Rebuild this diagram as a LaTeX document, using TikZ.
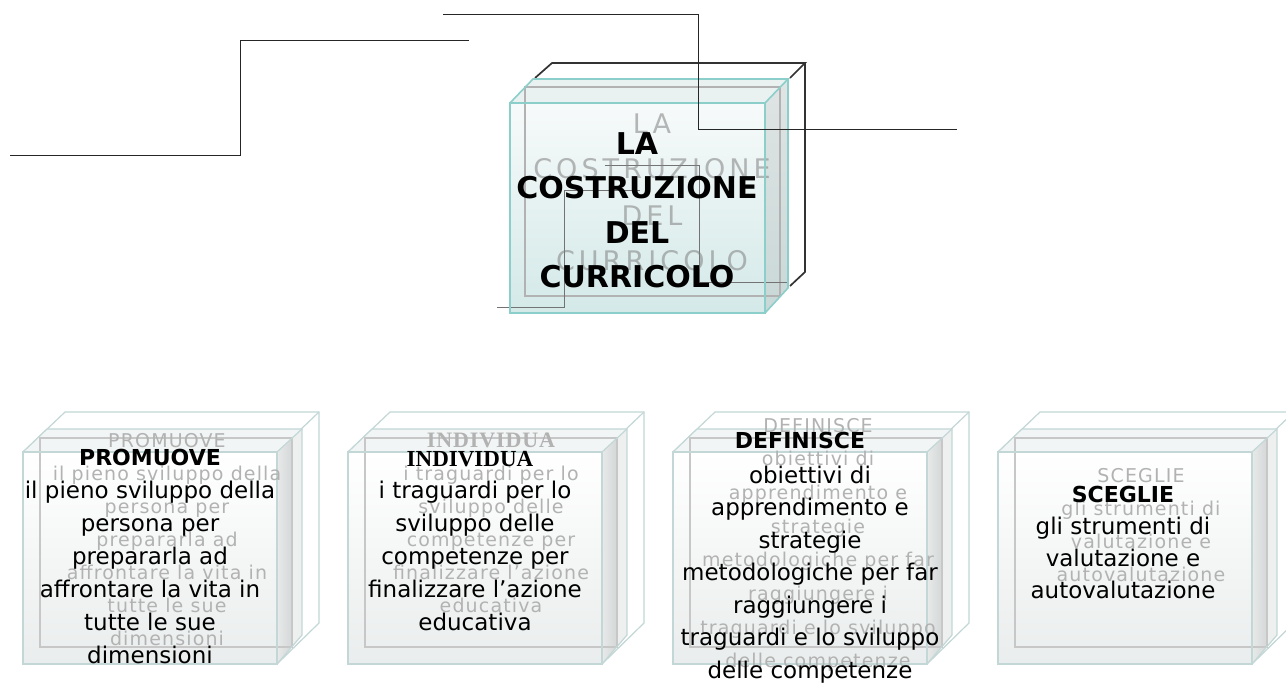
\documentclass[tikz,border=0pt]{standalone}
\usepackage{fontspec}
\setmainfont{DejaVu Sans}
\newfontfamily\serifbold{Liberation Serif}
\definecolor{tealedge}{HTML}{8CCFCA}
\definecolor{bedgec}{HTML}{C2D7D6}
\definecolor{darkline}{HTML}{333333}
\tikzset{
  conn/.style={draw=black!85, line width=1pt},
  innerconn/.style={draw=black!55, line width=1pt},
  darkwire/.style={draw=darkline, line width=1.7pt},
  tedge/.style={draw=tealedge, line width=1.6pt},
  bedge/.style={draw=bedgec, line width=1.2pt},
  innerrect/.style={draw=black!22, line width=1.2pt},
  maintxt/.style={font=\fontsize{23}{23}\selectfont, text=black, inner sep=0pt, anchor=base},
  headtxt/.style={font=\bfseries\fontsize{22}{22}\selectfont, text=black, inner sep=0pt, anchor=base},
  shtxt/.style={font=\fontsize{19}{19}\selectfont\addfontfeatures{LetterSpace=6}, text=black!30, inner sep=0pt, anchor=base},
  titletxt/.style={font=\bfseries\fontsize{30}{30}\selectfont, text=black, inner sep=0pt, anchor=base},
  titlesh/.style={font=\fontsize{27}{27}\selectfont\addfontfeatures{LetterSpace=15}, text=black!50, opacity=.55, inner sep=0pt, anchor=base},
}
\begin{document}
\begin{tikzpicture}[x=1pt,y=-1pt,line join=miter]
\path[use as bounding box, fill=white] (0,0) rectangle (1286,689);

% ---------- connectors (top) ----------
\coordinate (a1) at (10,155);
\coordinate (a2) at (240,155);
\coordinate (a3) at (469,40);
\draw[conn] (a1) -- (a2) |- (a3);
\coordinate (b1) at (443,14);
\coordinate (b2) at (698,129);
\coordinate (b3) at (957,129);

% ---------- top cube ----------
\draw[darkwire] (535,78) -- (552,63) -- (805,63) -- (790,78);
\draw[darkwire] (805,63) -- (805,272) -- (790,286);
\fill[color={rgb,255:red,233;green,241;blue,241}] (510,103) -- (533,79) -- (788,79) -- (765,103) -- cycle;
\shade[top color={rgb,255:red,224;green,228;blue,228}, bottom color={rgb,255:red,200;green,216;blue,215}] (765,103) -- (788,79) -- (788,288) -- (765,313) -- cycle;
\shade[top color={rgb,255:red,247;green,250;blue,250}, bottom color={rgb,255:red,211;green,233;blue,232}] (510,103) rectangle (765,313);
\draw[draw=black!30, line width=1.8pt] (525,87) rectangle (780,296);
\draw[innerconn] (497,307) -| (564,190) -- (640,190);
\draw[innerconn] (605,165) -| (699,282) -- (788,282);

\foreach \t/\yy [count=\i] in {LA/133,COSTRUZIONE/178,DEL/225,CURRICOLO/270}
  \node[titlesh] (tsh\i) at (652,\yy) {\t};

\draw[tedge] (510,103) rectangle (765,313);
\draw[tedge] (510,103) -- (533,79) -- (788,79) -- (765,103);
\draw[tedge] (788,79) -- (788,288) -- (765,313);

\draw[conn] (b1) -| (b2) -- (b3);

\foreach \t/\yy [count=\i] in {LA/154,COSTRUZIONE/198,DEL/243,CURRICOLO/287}
  \node[titletxt] (tt\i) at (637,\yy) {\t};

% ---------- bottom cubes ----------
\foreach \X in {23,348,673,998}{
  \begin{scope}[shift={(\X,452)}]
    \draw[bedge] (0,0) -- (42,-40) -- (296,-40) -- (296,171) -- (254,212);
    \draw[bedge] (296,-40) -- (254,0);
    \fill[color={rgb,255:red,242;green,245;blue,245}] (0,0) -- (24,-23) -- (279,-23) -- (254,0) -- cycle;
    \shade[left color={rgb,255:red,232;green,234;blue,234}, right color={rgb,255:red,212;green,215;blue,215}] (254,0) -- (269,-14) -- (269,195) -- (254,212) -- cycle;
    \fill[color={rgb,255:red,238;green,240;blue,240}] (269,-14) -- (279,-23) -- (279,183) -- (269,195) -- cycle;
    \shade[top color=white, bottom color={rgb,255:red,234;green,237;blue,237}] (0,0) rectangle (254,212);
    \draw[innerrect] (17,-14) rectangle (269,195);
    \draw[bedge] (24,-23) -- (279,-23) -- (279,183) -- (254,212);
    \draw[bedge] (0,0) rectangle (254,212);
    \draw[bedge] (0,0) -- (24,-23);
    \draw[bedge] (279,-23) -- (254,0);
  \end{scope}
}

% ---------- shadow texts ----------
\foreach \t [count=\i] in {PROMUOVE,il pieno sviluppo della,persona per,prepararla ad,affrontare la vita in,tutte le sue,dimensioni}
  \node[shtxt] (s1l\i) at (167,{447+33*(\i-1)}) {\t};
\node[shtxt, font=\serifbold\bfseries\fontsize{22}{22}\selectfont\addfontfeatures{LetterSpace=4}] (s2l1) at (491,447) {INDIVIDUA};
\foreach \t [count=\i] in {i traguardi per lo,sviluppo delle,competenze per,finalizzare l’azione,educativa}
  \node[shtxt] (s2m\i) at (491,{480+33*(\i-1)}) {\t};
\foreach \t [count=\i] in {DEFINISCE,obiettivi di,apprendimento e,strategie,metodologiche per far,raggiungere i,traguardi e lo sviluppo,delle competenze}
  \node[shtxt] (s3l\i) at (818,{432+33.7*(\i-1)}) {\t};
\foreach \t [count=\i] in {SCEGLIE,gli strumenti di,valutazione e,autovalutazione}
  \node[shtxt] (s4l\i) at (1141,{482+33.3*(\i-1)}) {\t};

% ---------- main texts ----------
\node[headtxt] (h1) at (150,465) {PROMUOVE};
\foreach \t [count=\i] in {il pieno sviluppo della,persona per,prepararla ad,affrontare la vita in,tutte le sue,dimensioni}
  \node[maintxt] (m1l\i) at (150,{498+33*(\i-1)}) {\t};

\node[headtxt, font=\serifbold\bfseries\fontsize{23}{23}\selectfont] (h2) at (470,466) {INDIVIDUA};
\foreach \t [count=\i] in {i traguardi per lo,sviluppo delle,competenze per,finalizzare l’azione,educativa}
  \node[maintxt] (m2l\i) at (475,{498+33*(\i-1)}) {\t};

\node[headtxt] (h3) at (800,448) {DEFINISCE};
\foreach \t [count=\i] in {obiettivi di,apprendimento e,strategie,metodologiche per far,raggiungere i,traguardi e lo sviluppo,delle competenze}
  \node[maintxt] (m3l\i) at (810,{483+32.5*(\i-1)}) {\t};

\node[headtxt] (h4) at (1123,502) {SCEGLIE};
\foreach \t [count=\i] in {gli strumenti di,valutazione e,autovalutazione}
  \node[maintxt] (m4l\i) at (1123,{534+32*(\i-1)}) {\t};
\end{tikzpicture}
\end{document}
